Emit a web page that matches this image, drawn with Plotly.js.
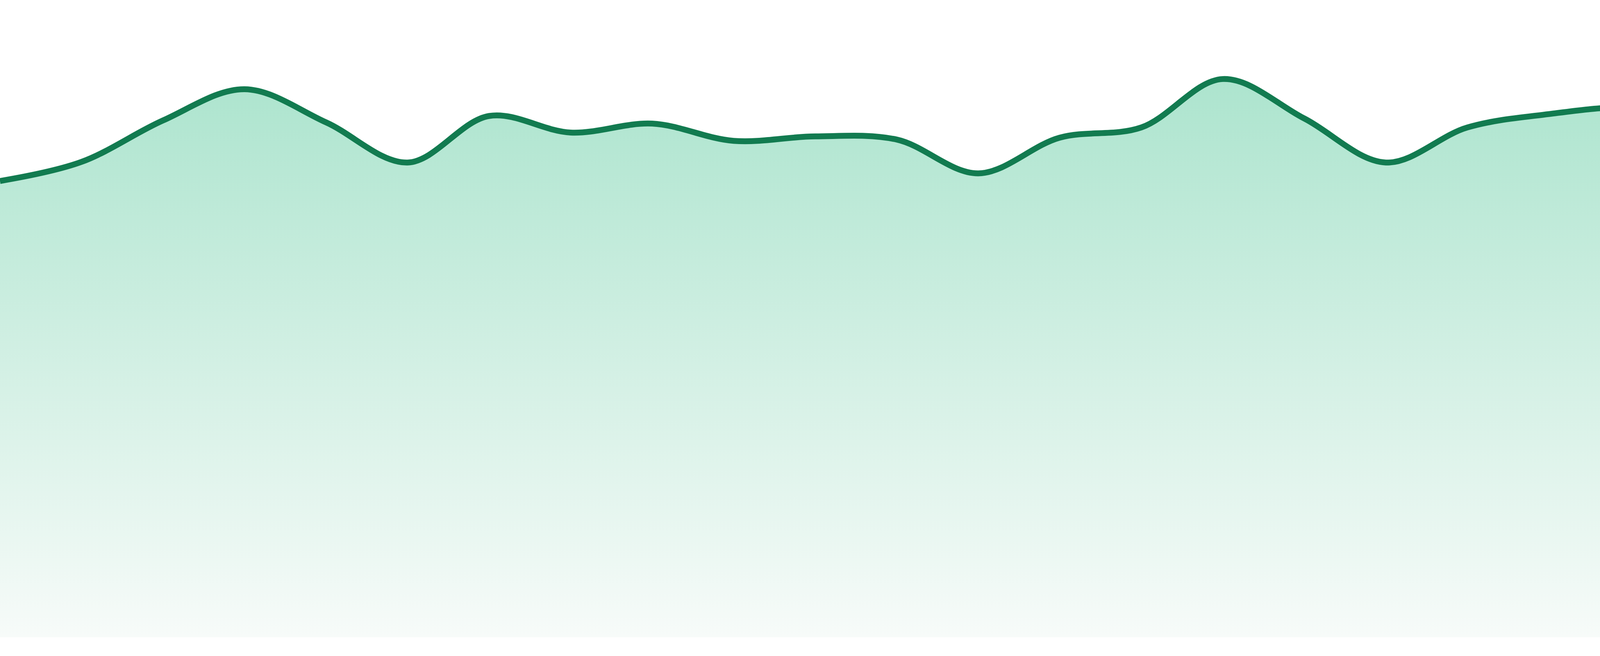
<!DOCTYPE html>
<html>
<head>
<meta charset="utf-8">
<script src="https://cdn.plot.ly/plotly-3.0.1.min.js"></script>
<style>
  html, body { margin: 0; padding: 0; background: #ffffff; }
  #chart { width: 4800px; height: 1680px; }
</style>
</head>
<body>
<div id="chart"></div>
<script>
// Data (24 evenly spaced samples)
const points = [0, 1, 2, 3, 4, 5, 6, 7, 8, 9, 10, 11, 12, 13, 14, 15, 16, 17, 18, 19, 20, 21, 22, 23];
const values = [71.6, 74.6, 81.1, 86.0, 80.8, 74.5, 81.8, 79.2, 80.6, 77.9, 78.6, 78.1,
                72.8, 78.4, 80.0, 87.6, 81.4, 74.5, 80.0, 82.1, 83.2, 81.8, 82.4, 78.1];

const lineColor = '#127b50';
const fillTop = '#a2e1c8';
const fillBottom = '#f7fbf9';

const trace = {
  x: points,
  y: values,
  type: 'scatter',
  mode: 'lines',
  line: { color: lineColor, width: 15, shape: 'spline', smoothing: 1 },
  fill: 'tozeroy',
  fillgradient: {
    type: 'vertical',
    start: 0,
    stop: 100,
    colorscale: [[0, fillBottom], [1, fillTop]]
  },
  hoverinfo: 'none'
};

const layout = {
  width: 4800,
  height: 1680,
  margin: { l: 0, r: 0, t: 0, b: 48, pad: 0 },
  paper_bgcolor: '#ffffff',
  plot_bgcolor: 'rgba(0,0,0,0)',
  showlegend: false,
  xaxis: { range: [0, 23], visible: false, showgrid: false, zeroline: false, fixedrange: true },
  yaxis: { range: [0, 100], visible: false, showgrid: false, zeroline: false, fixedrange: true }
};

Plotly.newPlot('chart', [trace], layout, { staticPlot: true, displayModeBar: false });
</script>
</body>
</html>
